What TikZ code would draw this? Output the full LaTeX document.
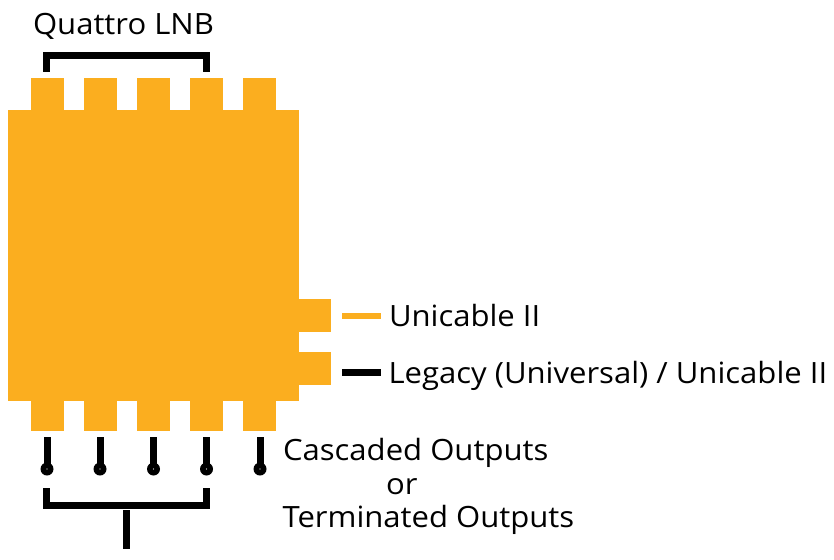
\documentclass[tikz,border=0pt]{standalone}
\usepackage{fontspec}
\setmainfont[FakeStretch=1.06]{Open Sans}
\definecolor{amberfill}{HTML}{FBAE1F}
\tikzset{
   block/.style={fill=amberfill,draw=none,inner sep=0pt,outer sep=0pt},
   pin/.style={block,minimum width=33pt,minimum height=#1},
   label/.style={anchor=base west,inner sep=0pt,outer sep=0pt,font=\fontsize{29.3pt}{32pt}\selectfont},
   bar/.style={line width=7pt,black},
   ball/.style={circle,fill=black,inner sep=0pt,minimum size=13pt},
}
\begin{document}
\begin{tikzpicture}[x=1pt,y=-1pt]
   \useasboundingbox (0,0) rectangle (834,559);
   \node[block,minimum width=291pt,minimum height=291pt] (body) at (153.5,255.5) {};
   \foreach \i/\x in {1/47.5,2/100.5,3/153.5,4/206.5,5/259.5}
   {
      \node[pin=32pt] (in\i) at (\x,94) {};
      \node[pin=30pt] (out\i) at (\x,416) {};
   }
   \node[block,minimum width=32pt,minimum height=33pt] (portu) at (315,315.5) {};
   \node[block,minimum width=32pt,minimum height=33pt] (portl) at (315,368.5) {};
   \node[label] (lnb) at (33,35) {Quattro LNB};
   \node[label] (uni) at (389,326) {Unicable II};
   \node[label] (leg) at (388.5,383) {Legacy (Universal) / Unicable II};
   \node[label] (cas) at (283,460) {Cascaded Outputs};
   \node[label] (ort) at (386,494) {or};
   \node[label] (ter) at (282.5,527) {Terminated Outputs};
   % legend lines
   \coordinate (ua) at (342,316);
   \coordinate (ub) at (381,316);
   \coordinate (la) at (342,372.5);
   \coordinate (lb) at (381,372.5);
   \draw[line width=6pt,amberfill] (ua) -- (ub);
   \draw[bar] (la) -- (lb);
   % quattro bracket
   \coordinate (qa) at (46.5,72);
   \coordinate (qb) at (206,72);
   \draw[bar,miter limit=10] (qa) -- ++(0,-16.5) -| (qb);
   % cascaded outputs
   \foreach \i/\x in {1/47,2/100,3/153.5,4/206.5,5/260}
   {
      \coordinate (pt\i) at (\x,437);
      \node[ball] (end\i) at (\x,469) {};
      \draw[bar] (pt\i) -- (end\i.center);
      \fill[white] (end\i.center) circle (0.7pt);
   }
   % lower bracket
   \coordinate (ba) at (46.5,488);
   \coordinate (bb) at (206,488);
   \coordinate (sa) at (126.5,510);
   \coordinate (sb) at (126.5,549);
   \draw[bar] (ba) -- ++(0,17.5) -| (bb);
   \draw[bar] (sa) -- (sb);
\end{tikzpicture}
\end{document}
